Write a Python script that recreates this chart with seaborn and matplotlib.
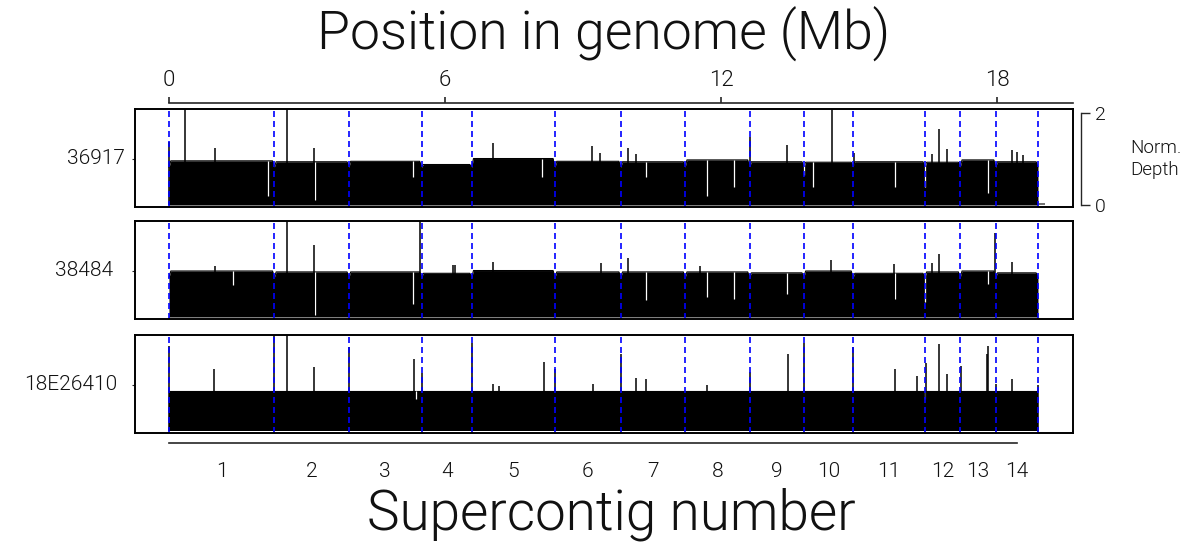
import numpy as np
import pandas as pd
import matplotlib
matplotlib.use("Agg")
import matplotlib.pyplot as plt
import matplotlib.transforms as mtrans
import seaborn as sns

# ---------------- data ----------------
samples = ["36917", "38484", "18E26410"]
contig_labels = [str(i) for i in range(1, 15)]
contig_bounds = [0.0, 2.29, 3.91, 5.49, 6.58, 8.39, 9.82, 11.22, 12.62,
                 13.80, 14.87, 16.43, 17.20, 17.97, 18.89]
top_ticks = [0, 6, 12, 18]

levels_36917 = [0.96, 0.94, 0.95, 0.88, 1.01, 0.95, 0.94, 0.98, 0.94, 0.93, 0.94, 0.93, 0.98, 0.94]
levels_38484 = [1.00, 0.98, 0.98, 0.95, 1.01, 0.98, 0.98, 0.98, 0.96, 1.00, 0.95, 0.98, 1.00, 0.96]
levels_18E26410 = [0.86, 0.86, 0.86, 0.86, 0.86, 0.86, 0.86, 0.86, 0.86, 0.86, 0.86, 0.86, 0.86, 0.86]
edge_depth = [0.82, 0.86, 0.84]

spike_pos_36917 = [0.0, 0.35, 1.0, 2.57, 3.15, 7.05, 9.2, 9.37, 9.98, 10.15, 12.63, 13.43,
                   14.41, 14.9, 16.59, 16.74, 16.92, 18.33, 18.43, 18.57]
spike_h_36917 = [1.37, 2.3, 1.24, 2.5, 1.24, 1.35, 1.28, 1.13, 1.24, 1.1, 1.48, 1.3,
                 2.5, 1.13, 1.1, 1.65, 1.22, 1.2, 1.15, 1.09]
dip_pos_36917 = [2.15, 3.17, 5.30, 8.10, 10.37, 11.70, 12.28, 13.80, 14.00, 15.78, 16.43, 17.80]
dip_d_36917 = [0.2, 0.1, 0.6, 0.6, 0.6, 0.2, 0.4, 0.65, 0.4, 0.4, 0.4, 0.26]

spike_pos_38484 = [1.0, 2.57, 3.15, 5.46, 6.17, 6.22, 7.05, 9.4, 9.98, 11.54, 14.4,
                   15.76, 16.59, 16.74, 17.96, 18.33]
spike_h_38484 = [1.1, 2.5, 1.57, 2.5, 1.13, 1.12, 1.2, 1.17, 1.28, 1.1, 1.24,
                 1.15, 1.17, 1.37, 1.83, 1.19]
dip_pos_38484 = [1.4, 3.17, 5.30, 10.37, 11.70, 12.28, 13.44, 15.78, 16.43, 17.80]
dip_d_38484 = [0.7, 0.04, 0.28, 0.37, 0.43, 0.4, 0.5, 0.4, 0.33, 0.72]

spike_pos_18E26410 = [0.0, 0.98, 2.28, 2.57, 3.15, 3.91, 5.33, 5.50, 6.59, 7.05, 7.17,
                      8.15, 8.39, 9.22, 9.83, 10.15, 10.37, 11.70, 12.63, 13.45, 13.80,
                      14.87, 15.78, 16.26, 16.45, 16.74, 16.92, 17.22, 17.78, 17.80,
                      17.98, 18.33, 18.89]
spike_h_18E26410 = [1.85, 1.35, 2.5, 2.5, 1.39, 1.83, 1.57, 1.26, 1.91, 1.02, 0.98,
                    1.5, 1.35, 1.02, 1.67, 1.15, 1.13, 1.0, 1.28, 1.67, 1.91,
                    1.83, 1.35, 1.2, 1.48, 1.89, 1.24, 1.41, 1.67, 1.85,
                    1.02, 1.13, 1.0]
dip_pos_18E26410 = [5.36, 16.43]
dip_d_18E26410 = [0.69, 0.69]

tail_36917 = (18.89, 19.05, 0.03)   # start, end, depth

levels = [levels_36917, levels_38484, levels_18E26410]
spikes = [(spike_pos_36917, spike_h_36917), (spike_pos_38484, spike_h_38484),
          (spike_pos_18E26410, spike_h_18E26410)]
dips = [(dip_pos_36917, dip_d_36917), (dip_pos_38484, dip_d_38484),
        (dip_pos_18E26410, dip_d_18E26410)]

# ---------------- style ----------------
sns.set_style("white")
plt.rcParams["font.family"] = ["Roboto", "DejaVu Sans"]
plt.rcParams["font.weight"] = 300
TXT = "#111111"

W, H = 1202, 548
fig = plt.figure(figsize=(W / 100, H / 100), dpi=100)
PX = 46.0                      # pixels per Mb / per depth unit
XL = (-34 / PX, 904 / PX)
YL = (-2 / PX, 96 / PX)
left = 135 / W
width = 938 / W
panel_tops = [109, 221, 335]
label_right_px = [125, 113, 117]
BLUE = "#0000ff"

axes = []
for k, name in enumerate(samples):
    ax = fig.add_axes([left, 1 - (panel_tops[k] + 98) / H, width, 98 / H])
    axes.append(ax)
    lev = levels[k]
    xs, ys = [], []
    for i in range(len(lev)):
        s, e = contig_bounds[i], contig_bounds[i + 1]
        ed = edge_depth[k] if k < 2 else lev[i]
        xs += [s, s + 0.04, e - 0.04, e]
        ys += [ed, lev[i], lev[i], ed]
    prof = pd.DataFrame({"pos": xs, "depth": ys})
    ax.fill_between(prof["pos"], 0, prof["depth"], color="black", lw=0)
    sns.lineplot(data=prof, x="pos", y="depth", color="black", lw=0.8,
                 estimator=None, sort=False, ax=ax)
    # dips
    dp, dd = dips[k]
    idx = np.clip(np.searchsorted(contig_bounds, dp) - 1, 0, len(lev) - 1)
    top_at = [lev[j] for j in idx]
    ax.vlines(dp, dd, top_at, color="white", lw=0.9)
    # spikes
    sp, sh = spikes[k]
    ax.vlines(sp, 0, sh, color="black", lw=1.1)
    if k == 0:
        ax.hlines(tail_36917[2], tail_36917[0], tail_36917[1], color="0.35", lw=1.2)
    # contig boundaries
    for b in contig_bounds:
        ax.axvline(b, color=BLUE, lw=1.2, dashes=(3.6, 2.4))
    ax.set_xlim(XL)
    ax.set_ylim(YL)
    ax.set_xticks([])
    ax.set_yticks([1])
    ax.set_yticklabels([""])
    ax.tick_params(axis="y", left=True, length=2, width=0.8, direction="out")
    ax.set_xlabel("")
    ax.set_ylabel("")
    for sp_ in ax.spines.values():
        sp_.set_visible(True)
        sp_.set_color("black")
        sp_.set_linewidth(1.4)
    tr = mtrans.blended_transform_factory(ax.transAxes, ax.transData)
    ax.text((label_right_px[k] - 135) / 938, 1, name, transform=tr,
            ha="right", va="center", fontsize=15, color=TXT)

# right bracket axis (Norm. Depth)
axr = axes[0].twinx()
axr.set_ylim(YL)
for s in ["left", "top", "bottom"]:
    axr.spines[s].set_visible(False)
axr.spines["right"].set_visible(True)
axr.spines["right"].set_position(("outward", 6))
axr.spines["right"].set_bounds(0, 2)
axr.spines["right"].set_linewidth(1.0)
axr.set_yticks([0, 2])
axr.set_yticklabels(["0", "2"])
axr.tick_params(axis="y", right=True, length=6.5, width=1.0, direction="out",
                pad=3, labelsize=14, labelcolor=TXT)
fig.text(1130 / W, 1 - 159 / H, "Norm.\nDepth", ha="left", va="center",
         fontsize=13.5, linespacing=1.3, color=TXT)

# top genome axis
axt = fig.add_axes([left, 1 - 103 / H, width, 1e-4])
axt.set_facecolor("none")
axt.set_xlim(XL)
for s in ["left", "right", "bottom"]:
    axt.spines[s].set_visible(False)
axt.spines["top"].set_visible(True)
axt.spines["top"].set_bounds(0, XL[1])
axt.spines["top"].set_linewidth(1.2)
axt.set_yticks([])
axt.xaxis.tick_top()
axt.set_xticks(top_ticks)
axt.set_xticklabels([str(t) for t in top_ticks])
axt.tick_params(axis="x", top=True, length=4.5, width=1.2, direction="out",
                pad=4, labelsize=16, labelcolor=TXT)

# bottom supercontig axis
mids = [(contig_bounds[i] + contig_bounds[i + 1]) / 2 for i in range(14)]
axb = fig.add_axes([left, 1 - 443 / H, width, 1e-4])
axb.set_facecolor("none")
axb.set_xlim(XL)
for s in ["left", "right", "top"]:
    axb.spines[s].set_visible(False)
axb.spines["bottom"].set_visible(True)
axb.spines["bottom"].set_bounds(0, 18.43)
axb.spines["bottom"].set_linewidth(1.2)
axb.set_yticks([])
axb.set_xticks(mids)
axb.set_xticklabels(contig_labels)
axb.tick_params(axis="x", bottom=True, length=0, pad=14, labelsize=15,
                labelcolor=TXT)

fig.text(604 / W, 1 - 34 / H, "Position in genome (Mb)", ha="center", va="center",
         fontsize=38.5, color=TXT)
fig.text(611 / W, 1 - 514 / H, "Supercontig number", ha="center", va="center",
         fontsize=39.5, color=TXT)

fig.savefig("out.png", dpi=100)
